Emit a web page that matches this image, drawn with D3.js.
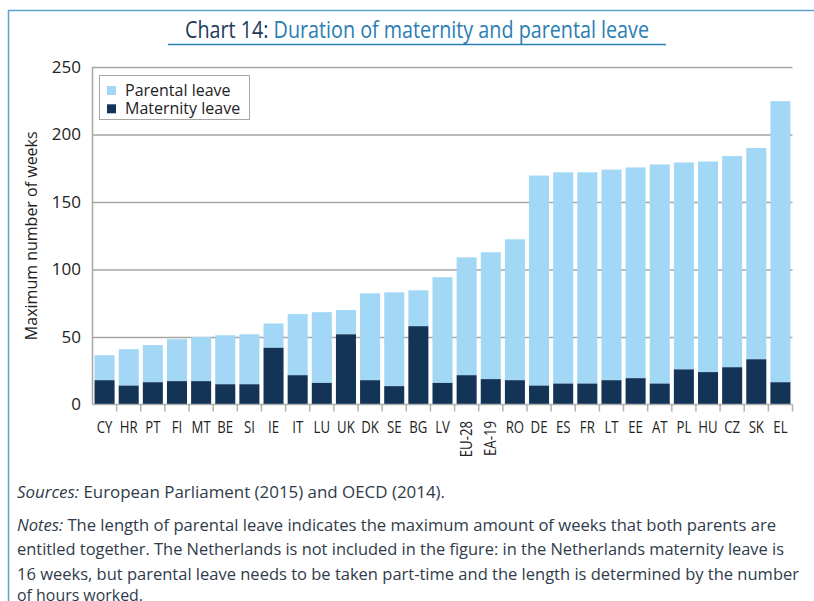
<!DOCTYPE html>
<html>
<head>
<meta charset="utf-8">
<script src="https://cdn.jsdelivr.net/npm/d3@7"></script>
<style>
  body { margin: 0; background: #fff; }
  svg { display: block; font-family: "Open Sans", sans-serif; }
  .grid line { stroke: #a6a6a6; stroke-width: 1.5; }
  .grid .domain { display: none; }
  .xaxis .domain, .xaxis line { stroke: #b0b0b0; stroke-width: 1.5; }
  .ylab text { fill: #222; font-size: 17px; }
  .xlab { fill: #222; font-size: 15.5px; }
  .note { fill: #2f3b4a; font-size: 16px; }
</style>
</head>
<body>
<script>
// chart 14 - maternity and parental leave, stacked bars

var countries = ["CY","HR","PT","FI","MT","BE","SI","IE","IT","LU","UK","DK","SE","BG","LV",
    "EU-28","EA-19","RO","DE","ES","FR","LT","EE","AT","PL","HU","CZ","SK","EL"];

// maternity leave (weeks), dark part of each bar
var maternity = [18, 14, 16.5, 17.3, 17.3, 15, 15, 42, 21.7, 16, 52, 18, 13.6, 58, 16,
    21.7, 18.8, 18, 14, 15.5, 15.5, 18, 19.5, 15.5, 26, 24, 27.6, 33.5, 16.5];

// total (maternity + parental), top of each bar
var total = [36.5, 41, 44, 48.4, 50, 51.3, 52, 60, 67, 68.4, 70, 82.4, 83.1, 84.6, 94.3,
    109, 112.8, 122.4, 169.6, 172, 172, 174, 175.6, 177.8, 179.3, 180, 184, 190, 224.7];

var yTicks = [0, 50, 100, 150, 200, 250];

var seriesNames = ["Parental leave", "Maternity leave"];
var seriesColors = ["#a2d8f6", "#133457"];

var w = 814, h = 601;
var m = {left: 92.5, right: 21.5, top: 67, bottom: 196.5};

var svg = d3.select("body").append("svg")
    .attr("width", w)
    .attr("height", h);

// frame lines (top & left)
svg.append("path")
    .attr("d", "M8.5," + h + "V10.5H" + w)
    .attr("fill", "none")
    .attr("stroke", "#5aa3cc")
    .attr("stroke-width", 1.5);

// title, squeezed to the width of the condensed original
var title = svg.append("text")
    .attr("x", 185)
    .attr("y", 38)
    .attr("textLength", 464)
    .attr("lengthAdjust", "spacingAndGlyphs")
    .style("font-size", "24px");
title.append("tspan").attr("fill", "#203a5c").text("Chart 14: ");
title.append("tspan").attr("fill", "#2a7db5").text("Duration of maternity and parental leave");

svg.append("line")
    .attr("x1", 168).attr("x2", 666)
    .attr("y1", 44.5).attr("y2", 44.5)
    .attr("stroke", "#2a7db5")
    .attr("stroke-width", 1.5);

var x = d3.scaleBand()
    .domain(countries)
    .range([m.left, w - m.right])
    .paddingInner(0.17)
    .paddingOuter(0.085);

var y = d3.scaleLinear()
    .domain([0, 250])
    .range([h - m.bottom, m.top]);

// gridlines
svg.append("g")
    .attr("class", "grid")
    .attr("transform", "translate(" + m.left + ",0)")
    .call(d3.axisLeft(y).tickValues(yTicks.slice(1)).tickSize(-(w - m.right - m.left)).tickFormat(""));

// y tick labels
svg.append("g")
    .attr("class", "ylab")
    .selectAll("text")
    .data(yTicks)
    .enter()
    .append("text")
    .attr("x", 81)
    .attr("y", function(d){ return y(d); })
    .attr("dy", "0.35em")
    .attr("text-anchor", "end")
    .text(function(d){ return d; });

// y axis line
svg.append("line")
    .attr("x1", m.left).attr("x2", m.left)
    .attr("y1", y(250)).attr("y2", y(0))
    .attr("stroke", "#a6a6a6")
    .attr("stroke-width", 1.5);

// parental part (full bar), then maternity over it
var bars = svg.append("g");
bars.selectAll(".parental")
    .data(countries)
    .enter()
    .append("rect")
    .attr("class", "parental")
    .attr("x", function(d){ return x(d); })
    .attr("width", x.bandwidth())
    .attr("y", function(d, i){ return y(total[i]); })
    .attr("height", function(d, i){ return y(maternity[i]) - y(total[i]); })
    .attr("fill", seriesColors[0]);

bars.selectAll(".maternity")
    .data(countries)
    .enter()
    .append("rect")
    .attr("class", "maternity")
    .attr("x", function(d){ return x(d); })
    .attr("width", x.bandwidth())
    .attr("y", function(d, i){ return y(maternity[i]); })
    .attr("height", function(d, i){ return y(0) - y(maternity[i]); })
    .attr("fill", seriesColors[1]);

// x axis: line plus tick marks between categories
var step = x.step();
var xAxis = svg.append("g").attr("class", "xaxis");
xAxis.append("line")
    .attr("x1", m.left).attr("x2", w - m.right)
    .attr("y1", y(0)).attr("y2", y(0));
xAxis.selectAll(".tk")
    .data(countries.slice(1).concat(["end"]))
    .enter()
    .append("line")
    .attr("x1", function(d, i){ return m.left + step * (i + 1); })
    .attr("x2", function(d, i){ return m.left + step * (i + 1); })
    .attr("y1", y(0))
    .attr("y2", y(0) + 7);

// category labels (narrowed a bit), the two aggregates are vertical
svg.selectAll(".xlab")
    .data(countries)
    .enter()
    .append("text")
    .attr("class", "xlab")
    .attr("transform", function(d){
        var cx = x(d) + x.bandwidth() / 2;
        if (d.indexOf("-") > 0) return "translate(" + (cx + 5.5) + ",421) rotate(-90) scale(0.85,1)";
        return "translate(" + cx + ",433) scale(0.85,1)";
    })
    .attr("text-anchor", function(d){ return d.indexOf("-") > 0 ? "end" : "middle"; })
    .text(function(d){ return d; });

// y axis title
svg.append("text")
    .attr("transform", "translate(37," + ((y(0) + y(250)) / 2) + ") rotate(-90)")
    .attr("text-anchor", "middle")
    .style("font-size", "16px")
    .attr("fill", "#222")
    .text("Maximum number of weeks");

// legend
var legend = svg.append("g");
legend.append("rect")
    .attr("x", 99.5).attr("y", 75.5)
    .attr("width", 150).attr("height", 44)
    .attr("fill", "#fff")
    .attr("stroke", "#a6a6a6");
legend.selectAll(".sw")
    .data(seriesNames)
    .enter()
    .append("rect")
    .attr("x", 107)
    .attr("y", function(d, i){ return 86 + i * 18.3; })
    .attr("width", 9).attr("height", 9)
    .attr("fill", function(d, i){ return seriesColors[i]; });
legend.selectAll(".lt")
    .data(seriesNames)
    .enter()
    .append("text")
    .attr("x", 125)
    .attr("y", function(d, i){ return 90.5 + i * 18.3; })
    .attr("dy", "0.35em")
    .style("font-size", "16px")
    .attr("fill", "#222")
    .text(function(d){ return d; });

// sources and notes
var noteLines = [
    [["i", "Sources:"], ["n", " European Parliament (2015) and OECD (2014)."]],
    [["i", "Notes:"], ["n", " The length of parental leave indicates the maximum amount of weeks that both parents are"]],
    [["n", "entitled together. The Netherlands is not included in the figure: in the Netherlands maternity leave is"]],
    [["n", "16 weeks, but parental leave needs to be taken part-time and the length is determined by the number"]],
    [["n", "of hours worked."]]
];
var noteY = [498, 530.5, 555, 579.5, 601];
var noteW = [428, 759, 767, 782, 126];

noteLines.forEach(function(line, li){
    var t = svg.append("text")
        .attr("class", "note")
        .attr("x", 17)
        .attr("y", noteY[li])
        .attr("textLength", noteW[li])
        .attr("lengthAdjust", "spacingAndGlyphs");
    line.forEach(function(part){
        t.append("tspan")
            .style("font-style", part[0] == "i" ? "italic" : "normal")
            .text(part[1]);
    });
});
</script>
</body>
</html>
